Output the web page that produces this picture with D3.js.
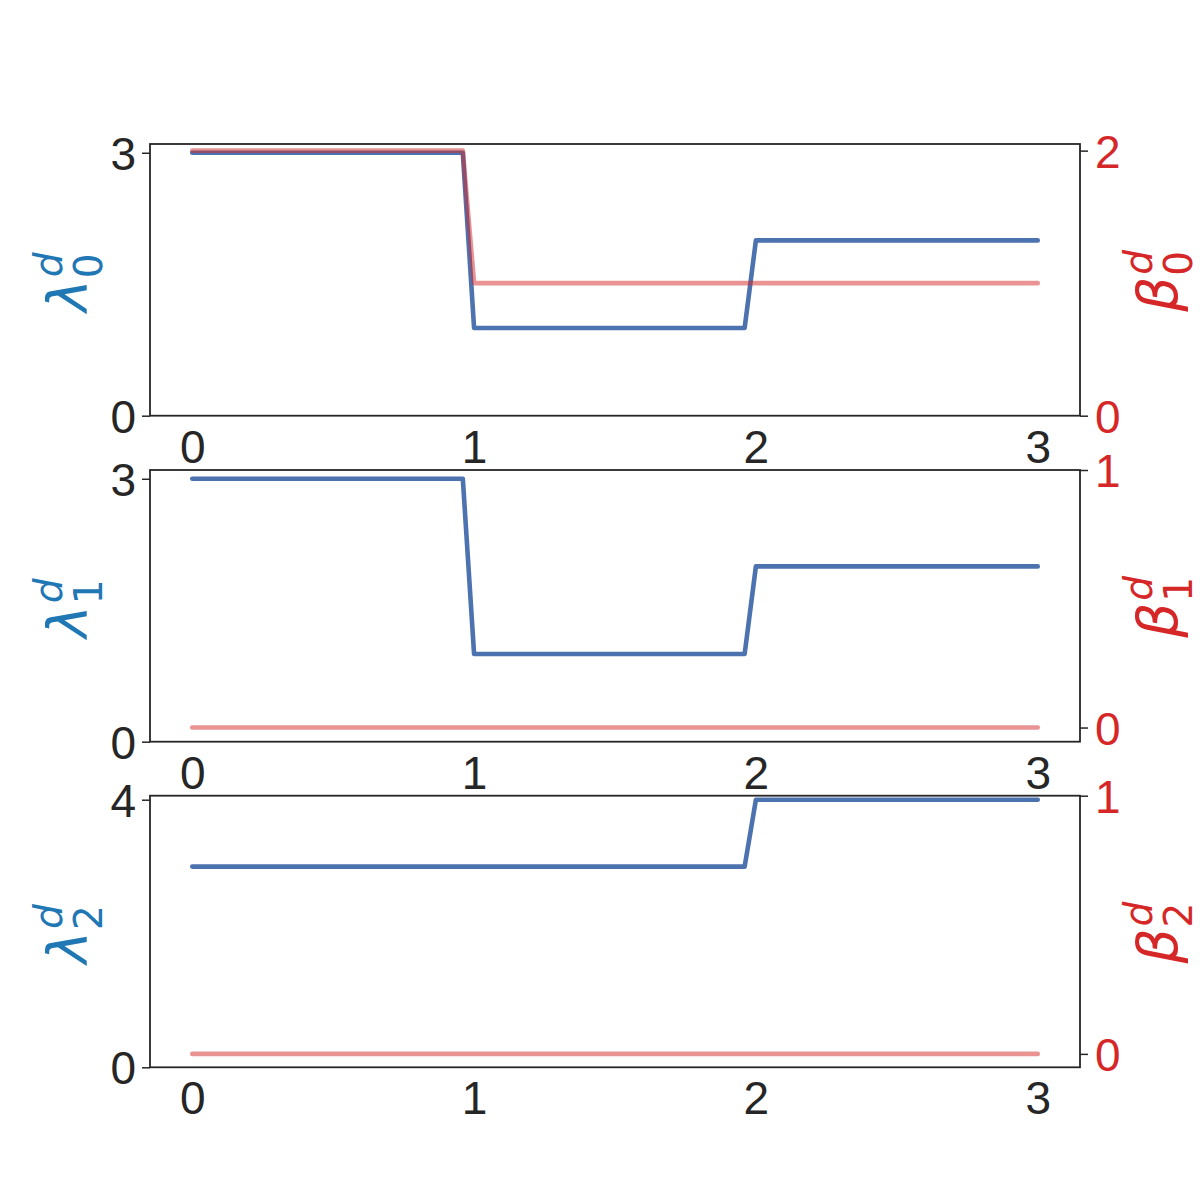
<!DOCTYPE html>
<html>
<head>
<meta charset="utf-8">
<script src="https://cdn.jsdelivr.net/npm/d3@7"></script>
<style>
  html, body { margin: 0; padding: 0; background: #fff; }
  svg { display: block; }
</style>
</head>
<body>
<svg id="chart" width="1200" height="1200"></svg>
<script>
// ---- data ----
const xValues = [0, 0.96, 1.0, 1.96, 2.0, 3];
const lambda0 = [3, 3, 1, 1, 2, 2];
const beta0   = [2, 2, 1, 1, 1, 1];
const lambda1 = [3, 3, 1, 1, 2, 2];
const beta1   = [0, 0, 0, 0, 0, 0];
const lambda2 = [3, 3, 3, 3, 4, 4];
const beta2   = [0, 0, 0, 0, 0, 0];
const xTicks = [0, 1, 2, 3];
const leftTicks = [[0, 3], [0, 3], [0, 4]];
const rightTicks = [[0, 2], [0, 1], [0, 1]];
const subscripts = ["0", "1", "2"];

// ---- layout ----
const svg = d3.select("#chart");
const xLeft = 150, xRight = 1080;
const panels = [
  { top: 144, bottom: 415.7, lam: lambda0, bet: beta0, ld: [0, 3.1], rd: [0, 2.05] },
  { top: 470, bottom: 741.7, lam: lambda1, bet: beta1, ld: [0, 3.1], rd: [-0.055, 1] },
  { top: 795.7, bottom: 1067.3, lam: lambda2, bet: beta2, ld: [0, 4.06], rd: [-0.052, 1] }
];
const dark = "#262626";
const blueLine = "#4c72b0";
const redLine = "#d62728";
const blueLabel = "#1f77b4";
const redLabel = "#d62728";
const tickFont = "'Liberation Sans', Arial, sans-serif";
const mathFont = "'DejaVu Sans', sans-serif";

const x = d3.scaleLinear().domain([-0.15, 3.15]).range([xLeft, xRight]);

panels.forEach((p, i) => {
  const yL = d3.scaleLinear().domain(p.ld).range([p.bottom, p.top]);
  const yR = d3.scaleLinear().domain(p.rd).range([p.bottom, p.top]);
  const g = svg.append("g");

  // lines
  const pts = (arr) => xValues.map((v, k) => [v, arr[k]]);
  g.append("path")
    .datum(pts(p.lam))
    .attr("d", d3.line().x(d => x(d[0])).y(d => yL(d[1])))
    .attr("fill", "none").attr("stroke", blueLine).attr("stroke-width", 4.6)
    .attr("stroke-linecap", "round").attr("stroke-linejoin", "round");
  g.append("path")
    .datum(pts(p.bet))
    .attr("d", d3.line().x(d => x(d[0])).y(d => yR(d[1])))
    .attr("fill", "none").attr("stroke", redLine).attr("stroke-opacity", 0.5).attr("stroke-width", 4.6)
    .attr("stroke-linecap", "round").attr("stroke-linejoin", "round");

  // frame
  g.append("rect")
    .attr("x", xLeft).attr("y", p.top)
    .attr("width", xRight - xLeft).attr("height", p.bottom - p.top)
    .attr("fill", "none").attr("stroke", dark).attr("stroke-width", 1.8);

  // left axis
  const la = g.append("g").attr("transform", `translate(${xLeft},0)`)
    .call(d3.axisLeft(yL).tickValues(leftTicks[i]).tickSize(8).tickPadding(6).tickFormat(d3.format("d")));
  la.select(".domain").remove();
  la.selectAll(".tick line").attr("stroke", dark).attr("stroke-width", 1.5);
  la.selectAll(".tick text").attr("fill", dark).style("font-family", tickFont)
    .style("font-size", "46px").attr("dy", "0.36em");

  // right axis
  const ra = g.append("g").attr("transform", `translate(${xRight},0)`)
    .call(d3.axisRight(yR).tickValues(rightTicks[i]).tickSize(8).tickPadding(7).tickFormat(d3.format("d")));
  ra.select(".domain").remove();
  ra.selectAll(".tick line").attr("stroke", dark).attr("stroke-width", 1.5);
  ra.selectAll(".tick text").attr("fill", redLabel).style("font-family", tickFont)
    .style("font-size", "46px").attr("dy", "0.36em");

  // bottom axis (no tick marks)
  const ba = g.append("g").attr("transform", `translate(0,${p.bottom})`)
    .call(d3.axisBottom(x).tickValues(xTicks).tickSize(0).tickPadding(0).tickFormat(d3.format("d")));
  ba.select(".domain").remove();
  ba.selectAll(".tick line").remove();
  ba.selectAll(".tick text").attr("fill", dark).style("font-family", tickFont)
    .style("font-size", "46px").attr("y", 47).attr("dy", null);

  const cy = (p.top + p.bottom) / 2;
  // math labels
  function mathLabel(bx, sym, color, sub) {
    const lg = g.append("g").attr("transform", `translate(${bx},${cy}) rotate(-90)`);
    const main = lg.append("text").attr("x", -32).attr("y", 0)
      .attr("fill", color).style("font-family", mathFont).style("font-style", "italic")
      .style("font-size", "55px").text(sym);
    const w = main.node().getComputedTextLength();
    lg.append("text").attr("x", -32 + w + 2).attr("y", -25)
      .attr("fill", color).style("font-family", mathFont).style("font-style", "italic")
      .style("font-size", "39px").text("d");
    lg.append("text").attr("x", -32 + w + 1).attr("y", 15)
      .attr("fill", color).style("font-family", mathFont)
      .style("font-size", "39px").text(sub);
  }
  mathLabel(87, "λ", blueLabel, subscripts[i]);
  mathLabel(1177, "β", redLabel, subscripts[i]);
});
</script>
</body>
</html>
